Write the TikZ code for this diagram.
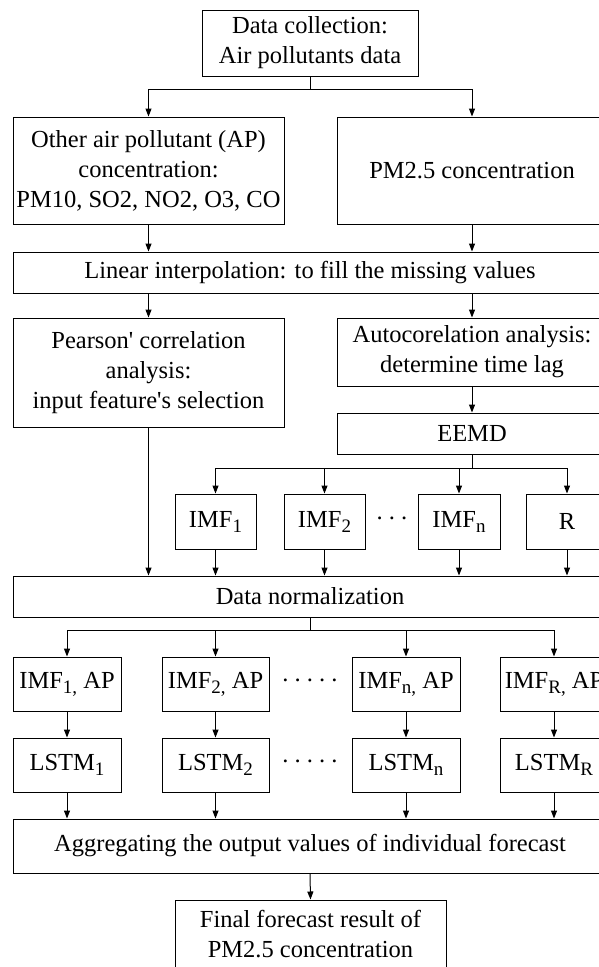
\documentclass[tikz,border=0pt]{standalone}
\usepackage{fontspec}
\setmainfont{Liberation Serif}
\usetikzlibrary{arrows.meta}
\newcommand{\sbs}[1]{\raisebox{-5pt}{\fontsize{19}{19}\selectfont #1}}

\begin{document}
\begin{tikzpicture}[x=1pt,y=-1pt,
    blk/.style n args={2}{draw,line width=1pt,align=center,inner sep=0pt,
      minimum width=#1,minimum height=#2},
    arr/.style={-{Triangle[length=8pt,width=6pt]},line width=1pt},
    font=\fontsize{24.5}{30}\selectfont]
\useasboundingbox (0,0) rectangle (599,967);
\clip (0,0) rectangle (599,967);

\node[blk={216}{66}] (dc) at (310,43) {Data collection:\\Air pollutants data};
\node[blk={271}{107}] (oap) at (148.5,170.5) {Other air pollutant (AP)\\concentration:\\PM10, SO2, NO2, O3, CO};
\node[blk={270}{107}] (pm) at (472,170.5) {PM2.5 concentration};
\node[blk={594}{41}] (lin) at (310,272.5) {Linear interpolation: to fill the missing values};
\node[blk={271}{109}] (prs) at (148.5,372.5) {Pearson\textquotesingle{} correlation\\analysis:\\input feature\textquotesingle{}s selection};
\node[blk={270}{68}] (acr) at (472,352) {Autocorelation analysis:\\determine time lag};
\node[blk={270}{41}] (eemd) at (472,433.5) {EEMD};

\node[blk={81}{55}] (imf1) at (215.5,521.5) {IMF\sbs{1}};
\node[blk={81}{55}] (imf2) at (324.5,521.5) {IMF\sbs{2}};
\node (dt1) at (392,521.5) {·\,·\,·};
\node[blk={82}{55}] (imfn) at (459,521.5) {IMF\sbs{n}};
\node[blk={82}{55}] (res) at (567,521.5) {R};

\node[blk={594}{41}] (nrm) at (310,596.5) {Data normalization};

\node[blk={108}{54}] (ia1) at (67,684) {IMF\sbs{1,} AP};
\node[blk={107}{54}] (ia2) at (215.5,684) {IMF\sbs{2,} AP};
\node (dt2) at (310,684) {·\,·\,·\,·\,·};
\node[blk={108}{54}] (ian) at (406,684) {IMF\sbs{n,} AP};
\node[blk={108}{54}] (iar) at (554,684) {IMF\sbs{R,} AP};

\node[blk={108}{54}] (ls1) at (67,765) {LSTM\sbs{1}};
\node[blk={107}{54}] (ls2) at (215.5,765) {LSTM\sbs{2}};
\node (dt3) at (310,765) {·\,·\,·\,·\,·};
\node[blk={108}{54}] (lsn) at (406,765) {LSTM\sbs{n}};
\node[blk={108}{54}] (lsr) at (554,765) {LSTM\sbs{R}};

\node[blk={594}{54}] (agg) at (310,846) {Aggregating the output values of individual forecast};
\node[blk={271}{68}] (fin) at (310.5,934) {Final forecast result of\\PM2.5 concentration};

\draw[arr] (dc.south) -- ++(0,13) -| (oap.north);
\draw[arr] (dc.south) -- ++(0,13) -| (pm.north);
\draw[arr] (oap.south) -- (oap.south |- lin.north);
\draw[arr] (pm.south) -- (pm.south |- lin.north);
\draw[arr] (lin.south -| prs.north) -- (prs.north);
\draw[arr] (lin.south -| acr.north) -- (acr.north);
\draw[arr] (acr.south) -- (eemd.north);
\draw[arr] (eemd.south) -- ++(0,14) -| (imf1.north);
\draw[arr] (eemd.south) -- ++(0,14) -| (imf2.north);
\draw[arr] (eemd.south) -- ++(0,14) -| (imfn.north);
\draw[arr] (eemd.south) -- ++(0,14) -| (res.north);
\draw[arr] (prs.south) -- (prs.south |- nrm.north);
\draw[arr] (imf1.south) -- (imf1.south |- nrm.north);
\draw[arr] (imf2.south) -- (imf2.south |- nrm.north);
\draw[arr] (imfn.south) -- (imfn.south |- nrm.north);
\draw[arr] (res.south) -- (res.south |- nrm.north);
\draw[arr] (nrm.south) -- ++(0,13) -| (ia1.north);
\draw[arr] (nrm.south) -- ++(0,13) -| (ia2.north);
\draw[arr] (nrm.south) -- ++(0,13) -| (ian.north);
\draw[arr] (nrm.south) -- ++(0,13) -| (iar.north);
\draw[arr] (ia1.south) -- (ls1.north);
\draw[arr] (ia2.south) -- (ls2.north);
\draw[arr] (ian.south) -- (lsn.north);
\draw[arr] (iar.south) -- (lsr.north);
\draw[arr] (ls1.south) -- (ls1.south |- agg.north);
\draw[arr] (ls2.south) -- (ls2.south |- agg.north);
\draw[arr] (lsn.south) -- (lsn.south |- agg.north);
\draw[arr] (lsr.south) -- (lsr.south |- agg.north);
\draw[arr] (agg.south) -- (fin.north);
\end{tikzpicture}
\end{document}
